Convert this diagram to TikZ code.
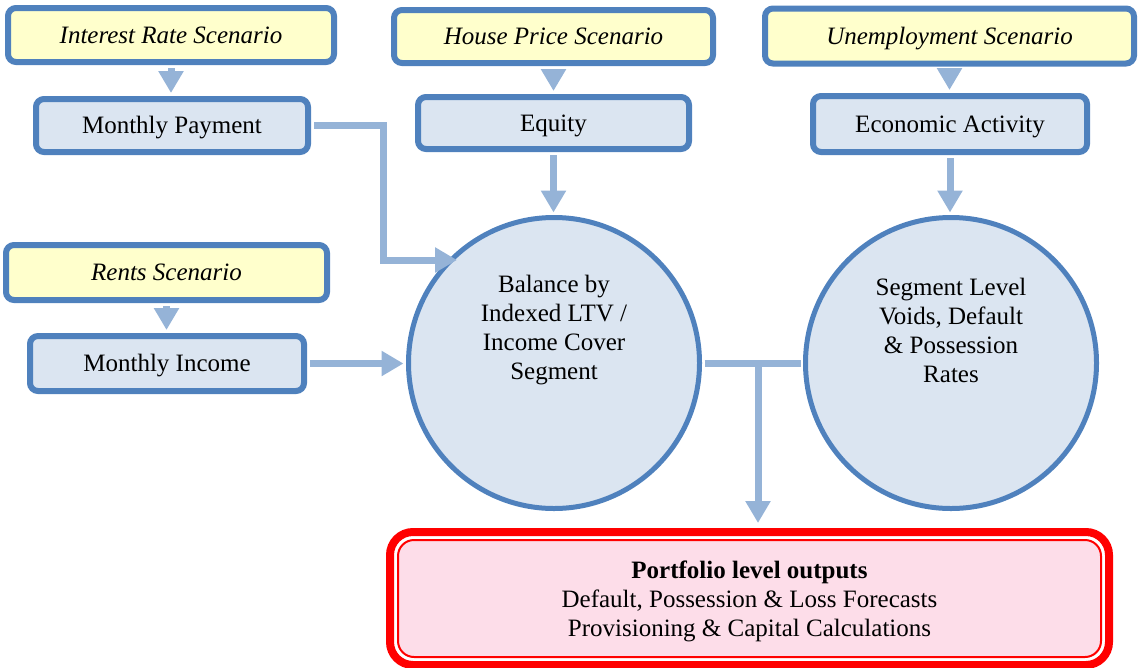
\documentclass[tikz,border=0pt]{standalone}
\usepackage{fontspec}
\setmainfont{Liberation Serif}
\usetikzlibrary{arrows.meta,calc}
\definecolor{bord}{RGB}{79,129,189}
\definecolor{lvlfill}{RGB}{219,229,241}
\definecolor{scenfill}{RGB}{255,255,204}
\definecolor{arrc}{RGB}{149,179,215}
\definecolor{portfill}{RGB}{253,221,233}
\begin{document}
\begin{tikzpicture}[x=1pt,y=-1pt,
  every node/.style={font=\fontsize{25}{29}\selectfont},
  scen/.style={draw=bord, fill=scenfill, line width=6pt, rounded corners=8pt, font=\fontsize{25}{29}\selectfont\itshape, inner sep=0pt, text height=20pt, text depth=4pt},
  lvl/.style={draw=bord, fill=lvlfill, line width=6pt, rounded corners=8pt, inner sep=0pt, text height=20pt, text depth=4pt},
  circ/.style={circle, draw=bord, fill=lvlfill, line width=5pt, minimum size=291pt, inner sep=0pt},
  arr/.style={draw=arrc, line width=7pt, -{Triangle[length=22pt,width=24pt]}, shorten <=3pt, shorten >=3pt},
  link/.style={draw=arrc, line width=7pt, shorten <=2.5pt, shorten >=2.5pt}]
\useasboundingbox (0,0) rectangle (1139,667);
% scenario and driver boxes
\node[scen, minimum width=326pt, minimum height=54pt] (int) at (171,35) {Interest Rate Scenario};
\node[lvl, minimum width=272pt, minimum height=53pt] (mpay) at (172,125.5) {Monthly Payment};
\node[scen, minimum width=319pt, minimum height=53pt] (house) at (553.5,36.5) {House Price Scenario};
\node[lvl, minimum width=271pt, minimum height=52pt] (equity) at (553.5,123) {Equity};
\node[scen, minimum width=369pt, minimum height=55pt] (unemp) at (949.5,36) {Unemployment Scenario};
\node[lvl, minimum width=274pt, minimum height=56pt] (econ) at (950,124) {Economic Activity};
\node[scen, minimum width=321pt, minimum height=55pt] (rents) at (166.5,272.5) {Rents Scenario};
\node[lvl, minimum width=274pt, minimum height=55pt] (minc) at (167,363.5) {Monthly Income};
% circles
\node[circ, label={[align=center, yshift=33pt]center:Balance by\\Indexed LTV /\\Income Cover\\Segment}] (c1) at (554,363) {};
\node[circ, label={[align=center, yshift=33pt]center:Segment Level\\Voids, Default\\\& Possession\\Rates}] (c2) at (951,363) {};
% portfolio box
\node[draw=red, fill=portfill, line width=2pt, rounded corners=16pt, minimum width=703pt, minimum height=117pt, inner sep=0pt,
  label={[align=center, yshift=-3pt]center:\textbf{Portfolio level outputs}\\Default, Possession \& Loss Forecasts\\Provisioning \& Capital Calculations}] (port) at (749.5,598.5) {};
\draw[red, line width=8pt, rounded corners=23pt] ([shift={(-7,-7)}]port.north west) rectangle ([shift={(7,7)}]port.south east);
% connectors
\coordinate (bend) at (383,260);
\coordinate (mptip) at (457,260);
\coordinate (junc) at (758,363);
\draw[arr] (int.south) -- (int.south |- mpay.north);
\draw[arr] (house.south) -- (house.south |- equity.north);
\draw[arr] (unemp.south) -- (unemp.south |- econ.north);
\draw[arr] (rents.south) -- (rents.south |- minc.north);
\draw[arr, shorten >=0pt] (mpay.east) -| (bend) -- (mptip);
\draw[arr, shorten >=2.5pt] (equity.south) -- (equity.south |- c1.north);
\draw[arr, shorten >=2.5pt] (econ.south) -- (econ.south |- c2.north);
\draw[arr, shorten >=2.5pt] (minc.east) -- (minc.east -| c1.west);
\draw[link] (c1.east) -- (c2.west);
\draw[arr, shorten <=0pt, shorten >=16pt] (junc) -- (junc |- port.north);
\end{tikzpicture}
\end{document}
